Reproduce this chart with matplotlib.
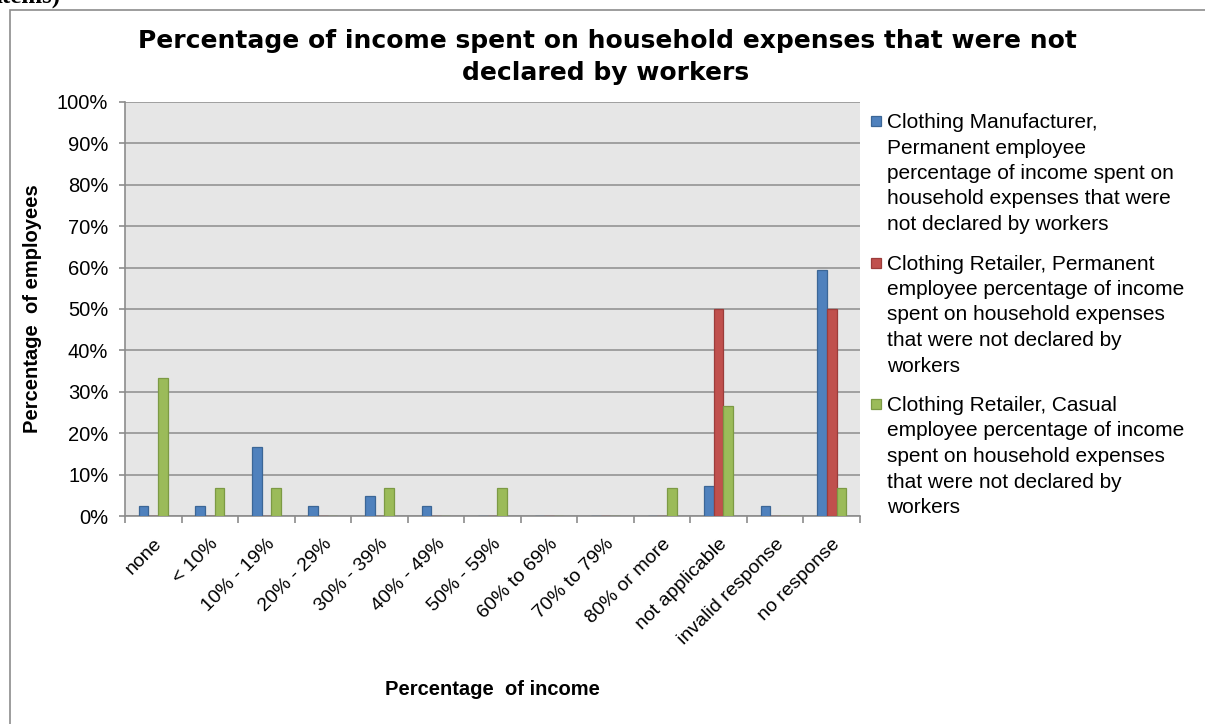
import numpy as np
import matplotlib.pyplot as plt
from matplotlib.patches import Rectangle

plt.rcParams['font.family'] = ['Liberation Sans', 'DejaVu Sans']

W, H = 1205, 724

categories = ['none', '< 10%', '10% - 19%', '20% - 29%', '30% - 39%', '40% - 49%',
              '50% - 59%', '60% to 69%', '70% to 79%', '80% or more',
              'not applicable', 'invalid response', 'no response']

# share of employees per income bracket (fractions)
manufacturer_perm = [0.0238, 0.0238, 0.1667, 0.0238, 0.0476, 0.0238, 0, 0, 0, 0,
                     0.0714, 0.0238, 0.5952]
retailer_perm = [0, 0, 0, 0, 0, 0, 0, 0, 0, 0, 0.50, 0, 0.50]
retailer_casual = [0.3333, 0.0667, 0.0667, 0, 0.0667, 0, 0.0667, 0, 0, 0.0667,
                   0.2667, 0, 0.0667]

series_names = [
    ['Clothing Manufacturer,', 'Permanent employee', 'percentage of income spent on',
     'household expenses that were', 'not declared by workers'],
    ['Clothing Retailer, Permanent', 'employee percentage of income',
     'spent on household expenses', 'that were not declared by', 'workers'],
    ['Clothing Retailer, Casual', 'employee percentage of income',
     'spent on household expenses', 'that were not declared by', 'workers'],
]
fills = ['#4F81BD', '#C0504D', '#9BBB59']
edges = ['#3B6696', '#9C3C3A', '#7C9A44']


def fx(px):
    return px / W


def fy(py):
    return 1 - py / H


fig = plt.figure(figsize=(W / 100, H / 100), dpi=100)

# outer chart frame and the cut-off caption above it
fig.patches.append(Rectangle((fx(10), -0.05), 1.2, fy(10) + 0.05,
                             transform=fig.transFigure, fill=False,
                             edgecolor='#8C8C8C', linewidth=1.2))
fig.text(fx(-4), fy(-15), 'items)', family='Liberation Serif', fontsize=18,
         fontweight='bold', va='top', ha='left')

ax = fig.add_axes([fx(125), fy(516), fx(735), 414 / H])
ax.set_facecolor('#E6E6E6')

x = np.arange(len(categories))
w = 0.17
for i, vals in enumerate([manufacturer_perm, retailer_perm, retailer_casual]):
    ax.bar(x + (i - 1) * w, vals, width=w, color=fills[i], edgecolor=edges[i],
           linewidth=0.9, zorder=3)

ax.set_xlim(-0.5, len(categories) - 0.5)
ax.set_ylim(0, 1.0)
yt = np.arange(0, 1.01, 0.1)
ax.set_yticks(yt)
ax.set_yticklabels([f'{int(round(v * 100))}%' for v in yt], fontsize=14.5)
ax.yaxis.grid(True, color='#8C8C8C', linewidth=1.1, zorder=0)
ax.set_axisbelow(True)

# ticks between the categories, labels under the centres
ax.set_xticks(np.arange(-0.5, len(categories)))
ax.set_xticklabels([])
ax.set_xticks(x, minor=True)
ax.set_xticklabels(categories, minor=True, rotation=45, ha='right',
                   rotation_mode='anchor', fontsize=14)
ax.tick_params(axis='x', which='minor', length=0, pad=14)
ax.tick_params(axis='x', which='major', length=5, color='#8C8C8C', width=1.2)
ax.tick_params(axis='y', length=4, color='#8C8C8C', width=1.2, pad=8)

for side in ['top', 'right']:
    ax.spines[side].set_visible(False)
for side in ['left', 'bottom']:
    ax.spines[side].set_color('#8C8C8C')
    ax.spines[side].set_linewidth(1.2)

ax.set_ylabel('Percentage  of employees', fontsize=14.5, fontweight='bold')
ax.yaxis.set_label_coords(-0.113, 0.5)
ax.set_xlabel('Percentage  of income', fontsize=14.5, fontweight='bold')
ax.xaxis.set_label_coords(0.5, -0.396)

# two-line title
fig.text(fx(607), fy(48), 'Percentage of income spent on household expenses that were not',
         ha='center', va='baseline', fontsize=18, fontweight='bold', family='DejaVu Sans')
fig.text(fx(606), fy(80), 'declared by workers',
         ha='center', va='baseline', fontsize=18, fontweight='bold', family='DejaVu Sans')

# legend to the right of the plot, marker level with the first line of each entry
line_step = 25.5
entry_tops = [128, 269.5, 411]
for i, lines in enumerate(series_names):
    base = entry_tops[i]
    fig.patches.append(Rectangle((fx(871), fy(base - 2)), fx(10), 10 / H,
                                 transform=fig.transFigure, facecolor=fills[i],
                                 edgecolor=edges[i], linewidth=0.9))
    for j, txt in enumerate(lines):
        fig.text(fx(887), fy(base + j * line_step), txt, ha='left', va='baseline',
                 fontsize=15)

fig.savefig('out.png', dpi=100, facecolor='white')
